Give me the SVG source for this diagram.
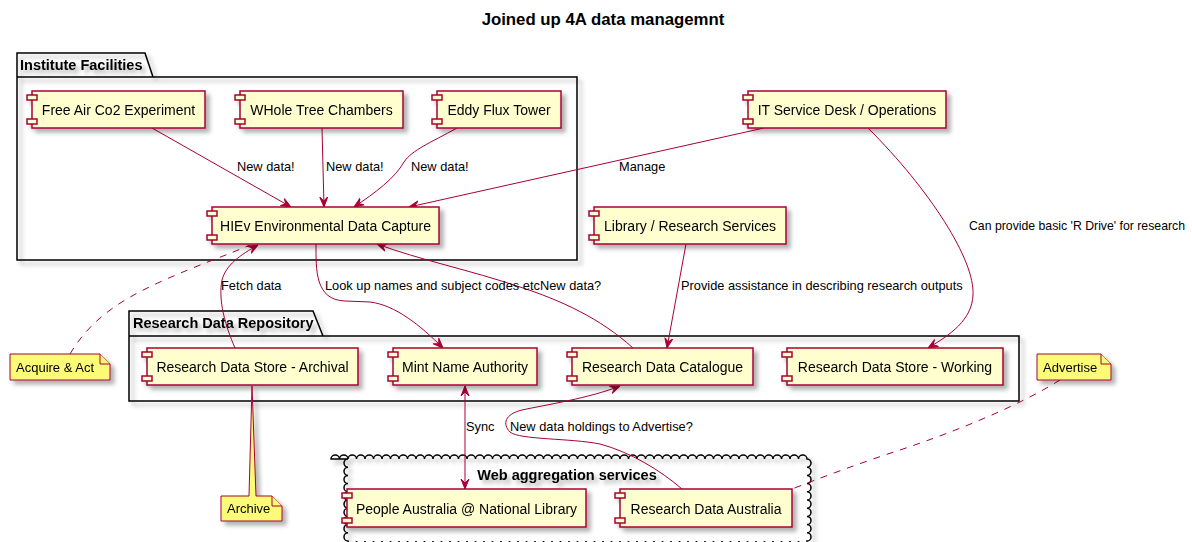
<svg xmlns="http://www.w3.org/2000/svg" width="1192" height="542" viewBox="0 0 1192 542">
<defs>
<style>
.t{font-family:"Liberation Sans",Arial,sans-serif;fill:#000}
.title{font-size:16.8px;font-weight:bold}
.pk{font-size:14.5px;font-weight:bold}
.nl{font-size:14px;text-anchor:middle}
.lb{font-size:12.8px}
.nt{font-size:13px}
.box{fill:#FEFECE;stroke:#A80036;stroke-width:1.5}
.pkg{fill:none;stroke:#000;stroke-width:1.5}
.note{fill:#FBFB77;stroke:#A80036;stroke-width:1}
.c{fill:none;stroke:#A80036;stroke-width:1}
.d{fill:none;stroke:#A80036;stroke-width:1;stroke-dasharray:7,7}
</style>
<filter id="sh" x="-20%" y="-20%" width="150%" height="170%">
<feDropShadow dx="4" dy="4" stdDeviation="2" flood-color="#000" flood-opacity="0.3"/>
</filter>
<marker id="ah" markerUnits="userSpaceOnUse" viewBox="0 0 10 10" refX="10" refY="5" markerWidth="10" markerHeight="10" orient="auto-start-reverse">
<path d="M0,1 L10,5 L0,9 L4,5 Z" fill="#A80036" stroke="#A80036" stroke-width="1"/>
</marker>
</defs>
<rect width="1192" height="542" fill="#fff"/>
<text class="t title" x="603" y="25" text-anchor="middle">Joined up 4A data managemnt</text>

<g id="pkg-institute" filter="url(#sh)">
<path class="pkg" d="M17,77 L17,53 L145,53 L153,77 M17,77 L577,77 L577,260 L17,260 Z"/>
<text class="t pk" x="20" y="69.5">Institute Facilities</text>
</g>
<g id="pkg-repository" filter="url(#sh)">
<path class="pkg" d="M129,336 L129,311 L313,311 L323,336 M129,336 L1019,336 L1019,401 L129,401 Z"/>
<text class="t pk" x="133" y="328">Research Data Repository</text>
</g>
<g id="cloud-web" filter="url(#sh)">
<path class="pkg" fill="none" d="M331,459 a4.25,4 0 0 1 8.5,0 a4.25,4 0 0 1 8.5,0 a4.25,4 0 0 1 8.5,0 a4.25,4 0 0 1 8.5,0 a4.25,4 0 0 1 8.5,0 a4.25,4 0 0 1 8.5,0 a4.25,4 0 0 1 8.5,0 a4.25,4 0 0 1 8.5,0 a4.25,4 0 0 1 8.5,0 a4.25,4 0 0 1 8.5,0 a4.25,4 0 0 1 8.5,0 a4.25,4 0 0 1 8.5,0 a4.25,4 0 0 1 8.5,0 a4.25,4 0 0 1 8.5,0 a4.25,4 0 0 1 8.5,0 a4.25,4 0 0 1 8.5,0 a4.25,4 0 0 1 8.5,0 a4.25,4 0 0 1 8.5,0 a4.25,4 0 0 1 8.5,0 a4.25,4 0 0 1 8.5,0 a4.25,4 0 0 1 8.5,0 a4.25,4 0 0 1 8.5,0 a4.25,4 0 0 1 8.5,0 a4.25,4 0 0 1 8.5,0 a4.25,4 0 0 1 8.5,0 a4.25,4 0 0 1 8.5,0 a4.25,4 0 0 1 8.5,0 a4.25,4 0 0 1 8.5,0 a4.25,4 0 0 1 8.5,0 a4.25,4 0 0 1 8.5,0 a4.25,4 0 0 1 8.5,0 a4.25,4 0 0 1 8.5,0 a4.25,4 0 0 1 8.5,0 a4.25,4 0 0 1 8.5,0 a4.25,4 0 0 1 8.5,0 a4.25,4 0 0 1 8.5,0 a4.25,4 0 0 1 8.5,0 a4.25,4 0 0 1 8.5,0 a4.25,4 0 0 1 8.5,0 a4.25,4 0 0 1 8.5,0 a4.25,4 0 0 1 8.5,0 a4.25,4 0 0 1 8.5,0 a4.25,4 0 0 1 8.5,0 a4.25,4 0 0 1 8.5,0 a4.25,4 0 0 1 8.5,0 a4.25,4 0 0 1 8.5,0 a4.25,4 0 0 1 8.5,0 a4.25,4 0 0 1 8.5,0 a4.25,4 0 0 1 8.5,0 a4.25,4 0 0 1 8.5,0 a4.25,4 0 0 1 8.5,0 a4.25,4 0 0 1 8.5,0 a4.25,4 0 0 1 8.5,0 a4.25,4 0 0 1 8.5,0 a4.25,4 0 0 1 8.5,0 a4.25,4 0 0 1 8.5,0 a4,4.1 0 0 1 0,8.2 a4,4.1 0 0 1 0,8.2 a4,4.1 0 0 1 0,8.2 a4,4.1 0 0 1 0,8.2 a4,4.1 0 0 1 0,8.2 a4,4.1 0 0 1 0,8.2 a4,4.1 0 0 1 0,8.2 a4,4.1 0 0 1 0,8.2 a4,4.1 0 0 1 0,8.2 a4,4.1 0 0 1 0,8.2 a4.25,4 0 0 1 -8.5,0 a4.25,4 0 0 1 -8.5,0 a4.25,4 0 0 1 -8.5,0 a4.25,4 0 0 1 -8.5,0 a4.25,4 0 0 1 -8.5,0 a4.25,4 0 0 1 -8.5,0 a4.25,4 0 0 1 -8.5,0 a4.25,4 0 0 1 -8.5,0 a4.25,4 0 0 1 -8.5,0 a4.25,4 0 0 1 -8.5,0 a4.25,4 0 0 1 -8.5,0 a4.25,4 0 0 1 -8.5,0 a4.25,4 0 0 1 -8.5,0 a4.25,4 0 0 1 -8.5,0 a4.25,4 0 0 1 -8.5,0 a4.25,4 0 0 1 -8.5,0 a4.25,4 0 0 1 -8.5,0 a4.25,4 0 0 1 -8.5,0 a4.25,4 0 0 1 -8.5,0 a4.25,4 0 0 1 -8.5,0 a4.25,4 0 0 1 -8.5,0 a4.25,4 0 0 1 -8.5,0 a4.25,4 0 0 1 -8.5,0 a4.25,4 0 0 1 -8.5,0 a4.25,4 0 0 1 -8.5,0 a4.25,4 0 0 1 -8.5,0 a4.25,4 0 0 1 -8.5,0 a4.25,4 0 0 1 -8.5,0 a4.25,4 0 0 1 -8.5,0 a4.25,4 0 0 1 -8.5,0 a4.25,4 0 0 1 -8.5,0 a4.25,4 0 0 1 -8.5,0 a4.25,4 0 0 1 -8.5,0 a4.25,4 0 0 1 -8.5,0 a4.25,4 0 0 1 -8.5,0 a4.25,4 0 0 1 -8.5,0 a4.25,4 0 0 1 -8.5,0 a4.25,4 0 0 1 -8.5,0 a4.25,4 0 0 1 -8.5,0 a4.25,4 0 0 1 -8.5,0 a4.25,4 0 0 1 -8.5,0 a4.25,4 0 0 1 -8.5,0 a4.25,4 0 0 1 -8.5,0 a4.25,4 0 0 1 -8.5,0 a4.25,4 0 0 1 -8.5,0 a4.25,4 0 0 1 -8.5,0 a4.25,4 0 0 1 -8.5,0 a4.25,4 0 0 1 -8.5,0 a4.25,4 0 0 1 -8.5,0 a4.25,4 0 0 1 -8.5,0 a4.25,4 0 0 1 -8.5,0 a4.25,4 0 0 1 -8.5,0 a4.25,4 0 0 1 -8.5,0 a4.25,4 0 0 1 -8.5,0 a4,4.1 0 0 1 0,-8.2 a4,4.1 0 0 1 0,-8.2 a4,4.1 0 0 1 0,-8.2 a4,4.1 0 0 1 0,-8.2 a4,4.1 0 0 1 0,-8.2 a4,4.1 0 0 1 0,-8.2 a4,4.1 0 0 1 0,-8.2 a4,4.1 0 0 1 0,-8.2 a4,4.1 0 0 1 0,-8.2 a4,4.1 0 0 1 0,-8.2 Z"/>
<text class="t pk" x="567" y="479.5" text-anchor="middle">Web aggregation services</text>
</g>

<g id="connectors">
<path class="c" d="M152,128 L291,207" marker-end="url(#ah)"/>
<path class="c" d="M322,128 L324,207" marker-end="url(#ah)"/>
<path class="c" d="M457,128 C430,143 412,150 404,162 C395,178 375,193 354,207" marker-end="url(#ah)"/>
<path class="c" d="M764,128 L409,207" marker-end="url(#ah)"/>
<path class="c" d="M868,128 C930,190 975,260 973,295 C972,320 950,335 928,348" marker-end="url(#ah)"/>
<path class="c" d="M686,244 L667,348" marker-end="url(#ah)"/>
<path class="c" d="M633,348 C600,318 560,300 520,287 C470,270 420,260 377,244" marker-end="url(#ah)"/>
<path class="c" d="M316,244 C316,270 315,300 345,301 L370,302 C395,305 420,325 443,348" marker-end="url(#ah)"/>
<path class="c" d="M235,348 C225,325 218,300 222,280 C226,265 240,255 258,245" marker-end="url(#ah)"/>
<path class="d" d="M70,354 C90,320 120,300 160,282 C195,266 220,258 250,245"/>
<path class="c" d="M465,386 L465,489" marker-start="url(#ah)" marker-end="url(#ah)"/>
<path class="c" d="M682,489 C660,470 630,452 600,444 C570,438 520,440 510,432 C502,424 505,414 522,410 C545,405 590,398 620,386" marker-end="url(#ah)"/>
<path class="d" d="M1060,380 C1020,405 960,430 900,450 C860,463 820,478 792,489"/>
<text class="t lb" x="237" y="171">New data!</text>
<text class="t lb" x="326" y="171">New data!</text>
<text class="t lb" x="411" y="171">New data!</text>
<text class="t lb" x="619" y="171">Manage</text>
<text class="t lb" x="969" y="230" textLength="216" lengthAdjust="spacingAndGlyphs">Can provide basic 'R Drive' for research</text>
<text class="t lb" x="221" y="290">Fetch data</text>
<text class="t lb" x="325" y="290">Look up names and subject codes etc</text>
<text class="t lb" x="540" y="290">New data?</text>
<text class="t lb" x="681" y="290">Provide assistance in describing research outputs</text>
<text class="t lb" x="466" y="431">Sync</text>
<text class="t lb" x="510" y="431">New data holdings to Advertise?</text>
</g>

<g id="free-air" filter="url(#sh)">
<rect class="box" x="32" y="91" width="173" height="37"/>
<rect class="box" x="27" y="95" width="10" height="5"/><rect class="box" x="27" y="119" width="10" height="5"/>
<text class="t nl" x="118.5" y="115">Free Air Co2 Experiment</text>
</g>
<g id="whole-tree" filter="url(#sh)">
<rect class="box" x="240" y="91" width="163" height="37"/>
<rect class="box" x="235" y="95" width="10" height="5"/><rect class="box" x="235" y="119" width="10" height="5"/>
<text class="t nl" x="321.5" y="115">WHole Tree Chambers</text>
</g>
<g id="eddy" filter="url(#sh)">
<rect class="box" x="437" y="91" width="124" height="37"/>
<rect class="box" x="432" y="95" width="10" height="5"/><rect class="box" x="432" y="119" width="10" height="5"/>
<text class="t nl" x="499" y="115">Eddy Flux Tower</text>
</g>
<g id="it-desk" filter="url(#sh)">
<rect class="box" x="748" y="91" width="198" height="37"/>
<rect class="box" x="743" y="95" width="10" height="5"/><rect class="box" x="743" y="119" width="10" height="5"/>
<text class="t nl" x="847" y="115">IT Service Desk / Operations</text>
</g>
<g id="hiev" filter="url(#sh)">
<rect class="box" x="212" y="207" width="227" height="37"/>
<rect class="box" x="207" y="211" width="10" height="5"/><rect class="box" x="207" y="235" width="10" height="5"/>
<text class="t nl" x="325.5" y="231">HIEv Environmental Data Capture</text>
</g>
<g id="library" filter="url(#sh)">
<rect class="box" x="594" y="207" width="192" height="37"/>
<rect class="box" x="589" y="211" width="10" height="5"/><rect class="box" x="589" y="235" width="10" height="5"/>
<text class="t nl" x="690" y="231">Library / Research Services</text>
</g>
<g id="archival" filter="url(#sh)">
<rect class="box" x="147" y="348" width="211" height="37"/>
<rect class="box" x="142" y="352" width="10" height="5"/><rect class="box" x="142" y="376" width="10" height="5"/>
<text class="t nl" x="252.5" y="372">Research Data Store - Archival</text>
</g>
<g id="mint" filter="url(#sh)">
<rect class="box" x="393" y="348" width="144" height="37"/>
<rect class="box" x="388" y="352" width="10" height="5"/><rect class="box" x="388" y="376" width="10" height="5"/>
<text class="t nl" x="465" y="372">Mint Name Authority</text>
</g>
<g id="catalogue" filter="url(#sh)">
<rect class="box" x="572" y="348" width="181" height="37"/>
<rect class="box" x="567" y="352" width="10" height="5"/><rect class="box" x="567" y="376" width="10" height="5"/>
<text class="t nl" x="662.5" y="372">Research Data Catalogue</text>
</g>
<g id="working" filter="url(#sh)">
<rect class="box" x="787" y="348" width="216" height="37"/>
<rect class="box" x="782" y="352" width="10" height="5"/><rect class="box" x="782" y="376" width="10" height="5"/>
<text class="t nl" x="895" y="372">Research Data Store - Working</text>
</g>
<g id="people-australia" filter="url(#sh)">
<rect class="box" x="347" y="489" width="239" height="38"/>
<rect class="box" x="342" y="493" width="10" height="5"/><rect class="box" x="342" y="518" width="10" height="5"/>
<text class="t nl" x="466.5" y="514">People Australia @ National Library</text>
</g>
<g id="rda" filter="url(#sh)">
<rect class="box" x="620" y="489" width="172" height="38"/>
<rect class="box" x="615" y="493" width="10" height="5"/><rect class="box" x="615" y="518" width="10" height="5"/>
<text class="t nl" x="706" y="514">Research Data Australia</text>
</g>

<g id="note-acquire" filter="url(#sh)">
<path class="note" d="M10,354 L10,380 L110,380 L110,364 L100,354 Z"/>
<path class="note" d="M100,354 L100,364 L110,364"/>
<text class="t nt" x="16" y="372">Acquire &amp; Act</text>
</g>
<g id="note-advertise" filter="url(#sh)">
<path class="note" d="M1037,354 L1037,380 L1111,380 L1111,364 L1101,354 Z"/>
<path class="note" d="M1101,354 L1101,364 L1111,364"/>
<text class="t nt" x="1043" y="372">Advertise</text>
</g>
<g id="note-archive" filter="url(#sh)">
<path class="note" d="M221,496 L221,521 L282,521 L282,506 L272,496 L256,496 L252,386 L249,496 Z"/>
<path class="note" d="M272,496 L272,506 L282,506"/>
<text class="t nt" x="227" y="513">Archive</text>
</g>
</svg>
